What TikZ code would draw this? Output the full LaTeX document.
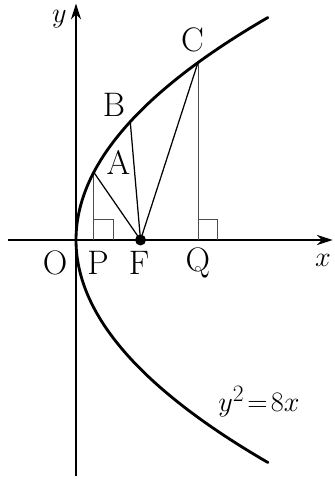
\documentclass[tikz,border=0pt]{standalone}
\usetikzlibrary{arrows.meta,calc}
\begin{document}
\begin{tikzpicture}[x=1cm,y=1cm,
  axisline/.style={line width=1.1pt,-{Stealth[length=14pt,width=9pt]}},
  curve/.style={line width=2.5pt,line cap=round},
  seg/.style={line width=1.1pt},
  perp/.style={line width=0.8pt,black!70},
  lbl/.style={inner sep=0pt,font=\fontsize{30}{32}\selectfont}]
\useasboundingbox (-2.357,-7.411) rectangle (8.0,7.442);
% axes
\coordinate (xs) at (-2.11,0);
\coordinate (xe) at (7.96,0);
\coordinate (ys) at (0,-7.33);
\coordinate (ye) at (0,7.33);
\draw[axisline] (xs) -- (xe);
\draw[axisline] (ys) -- (ye);
% points
\coordinate (O) at (0,0);
\coordinate (F) at (2,0);
\coordinate (A) at ({2.1*2.1/8},2.1);
\coordinate (B) at ({3.668*3.668/8},3.668);
\coordinate (C) at ({5.5*5.5/8},5.5);
\coordinate (P) at ({2.1*2.1/8},0);
\coordinate (Q) at ({5.5*5.5/8},0);
% perpendiculars and right-angle marks
\draw[perp] (A) -- (P);
\draw[perp] (C) -- (Q);
\draw[perp] ($(P)+(0,0.64)$) -- ++(0.6,0) -- ++(0,-0.64);
\draw[perp] ($(Q)+(0,0.64)$) -- ++(0.6,0) -- ++(0,-0.64);
% focal segments
\draw[seg] (A) -- (F);
\draw[seg] (B) -- (F);
\draw[seg] (C) -- (F);
% parabola
\draw[curve,domain=-6.9:6.9,samples=120,variable=\t] plot ({\t*\t/8},{\t});
\fill (F) circle (0.17);
% labels
\node[lbl] (lO) at (-0.646,-0.713) {O};
\node[lbl] (lP) at (0.68,-0.713) {P};
\node[lbl] (lF) at (1.953,-0.713) {F};
\node[lbl] (lQ) at (3.78,-0.713) {Q};
\node[lbl] (lx) at (7.66,-0.62) {$x$};
\node[lbl] (ly) at (-0.52,6.86) {$y$};
\node[lbl] (lA) at (1.318,2.39) {A};
\node[lbl] (lB) at (1.178,4.19) {B};
\node[lbl] (lC) at (3.61,6.2) {C};
\node[lbl] (leq) at (5.674,-5.02) {$y^{2}\mkern2mu{=}\mkern2mu8x$};
\end{tikzpicture}
\end{document}
